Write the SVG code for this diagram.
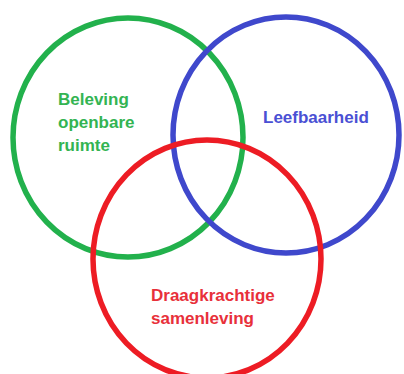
<svg xmlns="http://www.w3.org/2000/svg" width="404" height="374" viewBox="0 0 404 374">
  <style>
    .ring { fill: none; stroke-width: 5.5; }
    .lbl { font-family: "Liberation Sans", Arial, sans-serif; font-weight: bold; font-size: 17px; }
  </style>
  <rect width="404" height="374" fill="#ffffff"/>
  <g id="connectors"></g>
  <g id="beleving">
    <ellipse class="ring" cx="128" cy="137.5" rx="115" ry="119.5" stroke="#22b14c"/>
    <text class="lbl" fill="#33b452" x="58" y="105">Beleving</text>
    <text class="lbl" fill="#33b452" x="58" y="128">openbare</text>
    <text class="lbl" fill="#33b452" x="58" y="151">ruimte</text>
  </g>
  <g id="leefbaarheid">
    <ellipse class="ring" cx="286" cy="135" rx="113" ry="118" stroke="#3f48cc"/>
    <text class="lbl" fill="#4a50d4" x="263" y="123">Leefbaarheid</text>
  </g>
  <g id="draagkrachtig">
    <ellipse class="ring" cx="207" cy="259" rx="114" ry="119" stroke="#ed1c24"/>
    <text class="lbl" fill="#e8303a" x="151" y="301">Draagkrachtige</text>
    <text class="lbl" fill="#e8303a" x="151" y="324">samenleving</text>
  </g>
</svg>
